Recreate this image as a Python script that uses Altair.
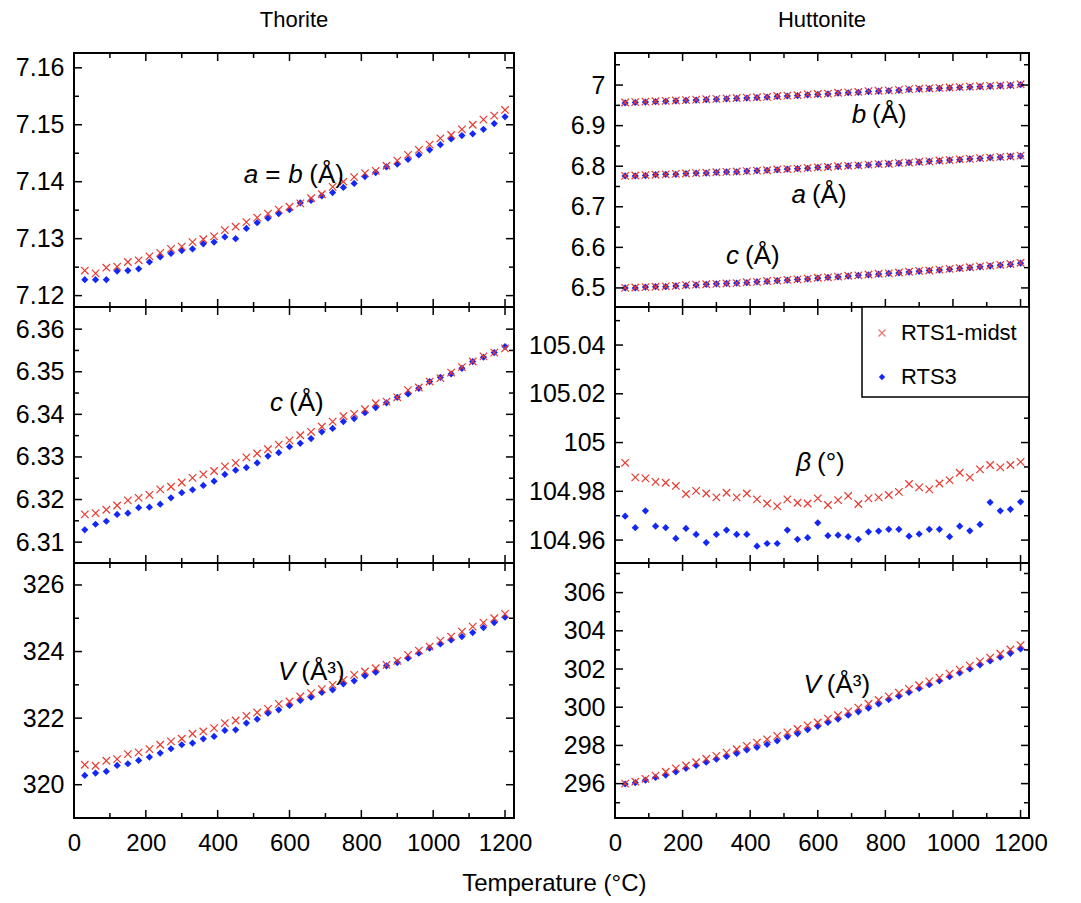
import altair as alt
import pandas as pd

FONT = "Liberation Sans"
RED = "#e8392f"
BLUE = "#1428f5"
XPATH = "M-1,-1L1,1M-1,1L1,-1"

# ---------------- data ----------------
T = [30, 60, 90, 120, 150, 180, 210, 240, 270, 300, 330, 360, 390, 420, 450, 480,
     510, 540, 570, 600, 630, 660, 690, 720, 750, 780, 810, 840, 870, 900, 930, 960,
     990, 1020, 1050, 1080, 1110, 1140, 1170, 1200]

# Thorite a = b
th_a_red = [7.1244, 7.1239, 7.1249, 7.1251, 7.1259, 7.1262, 7.1269, 7.1275, 7.1282, 7.1286,
            7.1294, 7.1299, 7.1304, 7.1315, 7.1321, 7.1329, 7.1337, 7.1344, 7.1351, 7.1356,
            7.1362, 7.1371, 7.1378, 7.1391, 7.1400, 7.1408, 7.1415, 7.1419, 7.1428, 7.1437,
            7.1447, 7.1456, 7.1465, 7.1476, 7.1482, 7.1492, 7.1500, 7.1509, 7.1516, 7.1526]
th_a_blue = [7.1228, 7.1228, 7.1228, 7.1243, 7.1244, 7.1247, 7.1259, 7.1268, 7.1274, 7.1279,
             7.1282, 7.1291, 7.1294, 7.1303, 7.1300, 7.1318, 7.1328, 7.1336, 7.1344, 7.1351,
             7.1363, 7.1367, 7.1375, 7.1381, 7.1390, 7.1397, 7.1409, 7.1416, 7.1426, 7.1431,
             7.1439, 7.1447, 7.1456, 7.1465, 7.1475, 7.1481, 7.1484, 7.1492, 7.1502, 7.1514]
# Thorite c
th_c_red = [6.3165, 6.3168, 6.3176, 6.3186, 6.3198, 6.3204, 6.3211, 6.3224, 6.3230, 6.3240,
            6.3251, 6.3259, 6.3267, 6.3278, 6.3286, 6.3299, 6.3308, 6.3318, 6.3329, 6.3339,
            6.3351, 6.3359, 6.3371, 6.3383, 6.3396, 6.3401, 6.3412, 6.3426, 6.3430, 6.3440,
            6.3457, 6.3463, 6.3477, 6.3485, 6.3498, 6.3511, 6.3524, 6.3536, 6.3545, 6.3555]
th_c_blue = [6.3129, 6.3142, 6.3149, 6.3165, 6.3168, 6.3181, 6.3182, 6.3189, 6.3204, 6.3216,
             6.3223, 6.3233, 6.3243, 6.3259, 6.3269, 6.3275, 6.3286, 6.3302, 6.3310, 6.3324,
             6.3332, 6.3343, 6.3359, 6.3367, 6.3383, 6.3390, 6.3404, 6.3416, 6.3427, 6.3440,
             6.3448, 6.3461, 6.3477, 6.3487, 6.3495, 6.3508, 6.3524, 6.3534, 6.3545, 6.3559]
# Thorite V
th_v_red = [320.60, 320.57, 320.72, 320.77, 320.92, 320.97, 321.07, 321.20, 321.30, 321.38,
            321.53, 321.60, 321.70, 321.85, 321.93, 322.07, 322.17, 322.28, 322.43, 322.50,
            322.65, 322.75, 322.87, 323.00, 323.15, 323.30, 323.40, 323.50, 323.60, 323.72,
            323.90, 324.03, 324.15, 324.33, 324.45, 324.60, 324.75, 324.87, 325.00, 325.13]
th_v_blue = [320.28, 320.35, 320.40, 320.58, 320.63, 320.73, 320.83, 320.95, 321.08, 321.20,
             321.25, 321.38, 321.45, 321.63, 321.65, 321.85, 321.97, 322.15, 322.25, 322.38,
             322.53, 322.63, 322.77, 322.85, 323.03, 323.12, 323.27, 323.38, 323.57, 323.67,
             323.80, 323.95, 324.10, 324.23, 324.35, 324.45, 324.57, 324.72, 324.87, 325.03]

# Huttonite a, b, c
hu_b_red = [6.957, 6.958, 6.959, 6.960, 6.961, 6.962, 6.963, 6.964, 6.965, 6.966,
            6.967, 6.968, 6.969, 6.970, 6.971, 6.973, 6.974, 6.975, 6.977, 6.978,
            6.979, 6.981, 6.982, 6.983, 6.985, 6.986, 6.987, 6.988, 6.990, 6.991,
            6.992, 6.993, 6.994, 6.995, 6.996, 6.997, 6.998, 6.999, 7.000, 7.002]
hu_b_blue = [6.956, 6.957, 6.958, 6.959, 6.960, 6.961, 6.962, 6.963, 6.964, 6.965,
             6.966, 6.967, 6.968, 6.969, 6.970, 6.972, 6.973, 6.974, 6.976, 6.977,
             6.978, 6.980, 6.981, 6.982, 6.984, 6.985, 6.986, 6.987, 6.989, 6.990,
             6.991, 6.992, 6.993, 6.994, 6.995, 6.996, 6.997, 6.998, 6.999, 7.001]
hu_a_red = [6.776, 6.777, 6.778, 6.779, 6.780, 6.781, 6.782, 6.783, 6.784, 6.785,
            6.786, 6.787, 6.788, 6.789, 6.790, 6.792, 6.793, 6.794, 6.796, 6.797,
            6.798, 6.800, 6.801, 6.802, 6.804, 6.805, 6.806, 6.808, 6.809, 6.811,
            6.812, 6.814, 6.815, 6.817, 6.818, 6.820, 6.821, 6.823, 6.824, 6.826]
hu_a_blue = [6.776, 6.776, 6.777, 6.779, 6.780, 6.780, 6.782, 6.783, 6.783, 6.785,
             6.786, 6.786, 6.788, 6.789, 6.790, 6.791, 6.793, 6.794, 6.795, 6.797,
             6.798, 6.799, 6.801, 6.802, 6.803, 6.805, 6.806, 6.807, 6.809, 6.810,
             6.812, 6.813, 6.815, 6.816, 6.818, 6.819, 6.821, 6.822, 6.824, 6.825]
hu_c_red = [6.500, 6.501, 6.502, 6.503, 6.504, 6.505, 6.507, 6.508, 6.509, 6.510,
            6.511, 6.512, 6.514, 6.515, 6.517, 6.518, 6.520, 6.521, 6.523, 6.525,
            6.526, 6.528, 6.530, 6.531, 6.533, 6.535, 6.536, 6.538, 6.540, 6.542,
            6.543, 6.545, 6.547, 6.549, 6.551, 6.553, 6.555, 6.557, 6.559, 6.562]
hu_c_blue = [6.500, 6.500, 6.502, 6.503, 6.503, 6.505, 6.506, 6.507, 6.509, 6.510,
             6.511, 6.512, 6.513, 6.515, 6.516, 6.518, 6.519, 6.521, 6.522, 6.524,
             6.526, 6.527, 6.529, 6.531, 6.532, 6.534, 6.536, 6.537, 6.539, 6.541,
             6.543, 6.544, 6.546, 6.548, 6.550, 6.552, 6.554, 6.556, 6.558, 6.561]
# Huttonite beta
hu_beta_red = [104.9917, 104.9857, 104.9853, 104.9839, 104.9835, 104.9822, 104.9789, 104.9802, 104.9791, 104.9775,
               104.9794, 104.9775, 104.9791, 104.9767, 104.9750, 104.9739, 104.9767, 104.9753, 104.9750, 104.9771,
               104.9744, 104.9764, 104.9781, 104.9748, 104.9771, 104.9775, 104.9785, 104.9798, 104.9830, 104.9816,
               104.9808, 104.9832, 104.9846, 104.9876, 104.9857, 104.9890, 104.9908, 104.9898, 104.9908, 104.9921]
hu_beta_blue = [104.9698, 104.9651, 104.9720, 104.9657, 104.9651, 104.9607, 104.9648, 104.9623, 104.9590, 104.9623,
                104.9641, 104.9623, 104.9623, 104.9575, 104.9586, 104.9586, 104.9641, 104.9603, 104.9610, 104.9671,
                104.9618, 104.9620, 104.9614, 104.9603, 104.9634, 104.9637, 104.9644, 104.9644, 104.9616, 104.9625,
                104.9644, 104.9644, 104.9614, 104.9657, 104.9638, 104.9664, 104.9755, 104.9720, 104.9726, 104.9757]
# Huttonite V
hu_v_red = [296.00, 296.10, 296.25, 296.42, 296.62, 296.80, 296.95, 297.12, 297.30, 297.45,
            297.62, 297.80, 297.98, 298.15, 298.32, 298.50, 298.68, 298.86, 299.05, 299.20,
            299.40, 299.58, 299.78, 299.98, 300.18, 300.38, 300.57, 300.76, 300.96, 301.15,
            301.35, 301.55, 301.76, 301.97, 302.18, 302.40, 302.60, 302.80, 303.02, 303.25]
hu_v_blue = [295.98, 296.05, 296.18, 296.32, 296.45, 296.62, 296.80, 296.95, 297.12, 297.28,
             297.42, 297.58, 297.76, 297.90, 298.06, 298.24, 298.45, 298.62, 298.82, 299.00,
             299.20, 299.38, 299.58, 299.76, 299.95, 300.18, 300.40, 300.58, 300.78, 300.98,
             301.18, 301.38, 301.60, 301.80, 302.00, 302.22, 302.42, 302.62, 302.82, 303.05]

x_major = [0, 200, 400, 600, 800, 1000, 1200]
x_minor = [100, 300, 500, 700, 900, 1100]
X_DOMAIN = [0, 1225]

series_names = ["RTS1-midst", "RTS3"]
column_titles = ["Thorite", "Huttonite"]
x_title = "Temperature (°C)"

ANN_SIZE = 26


def tick_layers(xsc, ysc, xaxis, yaxis, ymaj, ymin, w, h):
    layers = []
    for vals, L in [(x_major, 8), (x_minor, 5)]:
        d = pd.DataFrame({"t": vals})
        base = alt.Chart(d).mark_rule(color="black", strokeWidth=1.5)
        layers.append(base.encode(x=alt.X("t:Q", scale=xsc, axis=xaxis),
                                  y=alt.value(h), y2=alt.value(h - L)))
        layers.append(base.encode(x=alt.X("t:Q", scale=xsc, axis=xaxis),
                                  y=alt.value(0), y2=alt.value(L)))
    for vals, L in [(ymaj, 8), (ymin, 5)]:
        d = pd.DataFrame({"t": vals})
        base = alt.Chart(d).mark_rule(color="black", strokeWidth=1.5)
        layers.append(base.encode(y=alt.Y("t:Q", scale=ysc, axis=yaxis),
                                  x=alt.value(0), x2=alt.value(L)))
        layers.append(base.encode(y=alt.Y("t:Q", scale=ysc, axis=yaxis),
                                  x=alt.value(w), x2=alt.value(w - L)))
    return layers


def annot_layers(xsc, ysc, xaxis, yaxis, annots):
    layers = []
    for (tx, vy, pieces) in annots:
        d = pd.DataFrame({"T": [tx], "v": [vy]})
        for (txt, italic, align, dx) in pieces:
            layers.append(
                alt.Chart(d).mark_text(text=txt, font=FONT, fontSize=ANN_SIZE,
                                       fontStyle="italic" if italic else "normal",
                                       align=align, baseline="middle", dx=dx, color="black")
                .encode(x=alt.X("T:Q", scale=xsc, axis=xaxis),
                        y=alt.Y("v:Q", scale=ysc, axis=yaxis))
            )
    return layers


def legend_layers(w):
    layers = []
    box = pd.DataFrame({"k": [0]})
    layers.append(alt.Chart(box).mark_rect(fill="white", stroke="black", strokeWidth=1.5)
                  .encode(x=alt.value(w - 167), x2=alt.value(w), y=alt.value(0), y2=alt.value(90)))
    d1 = pd.DataFrame({"name": [series_names[0]]})
    d2 = pd.DataFrame({"name": [series_names[1]]})
    layers.append(alt.Chart(d1).mark_point(shape=XPATH, filled=False, strokeWidth=1.2, size=49, color=RED)
                  .encode(x=alt.value(w - 147), y=alt.value(26)))
    layers.append(alt.Chart(d1).mark_text(font=FONT, fontSize=22, align="left", baseline="middle", color="black")
                  .encode(text="name:N", x=alt.value(w - 128), y=alt.value(26)))
    layers.append(alt.Chart(d2).mark_point(shape="diamond", filled=True, size=40, color=BLUE, opacity=1)
                  .encode(x=alt.value(w - 147), y=alt.value(70)))
    layers.append(alt.Chart(d2).mark_text(font=FONT, fontSize=22, align="left", baseline="middle", color="black")
                  .encode(text="name:N", x=alt.value(w - 128), y=alt.value(70)))
    return layers


def panel(reds, blues, ydom, ymaj, ymin, yfmt, w, h, annots, bottom=False, title=None, legend=False):
    xsc = alt.Scale(domain=X_DOMAIN, nice=False, zero=False)
    ysc = alt.Scale(domain=ydom, nice=False, zero=False)
    if bottom:
        xaxis = alt.Axis(values=x_major, ticks=False, domain=False, grid=False, title=None,
                         labelFontSize=24, labelFont=FONT, labelColor="black", labelPadding=13,
                         labelFlush=False, labelOverlap=False, format="d")
    else:
        xaxis = alt.Axis(values=x_major, ticks=False, domain=False, grid=False, title=None, labels=False)
    yaxis = alt.Axis(values=ymaj, ticks=False, domain=False, grid=False, title=None,
                     labelFontSize=25, labelFont=FONT, labelColor="black", labelPadding=10,
                     labelFlush=False, labelOverlap=False, format=yfmt)
    db = pd.DataFrame([{"T": t, "v": v} for s in blues for t, v in zip(T, s)])
    dr = pd.DataFrame([{"T": t, "v": v} for s in reds for t, v in zip(T, s)])
    blue_layer = alt.Chart(db).mark_point(shape="diamond", filled=True, size=52, color=BLUE, opacity=1).encode(
        x=alt.X("T:Q", scale=xsc, axis=xaxis), y=alt.Y("v:Q", scale=ysc, axis=yaxis))
    red_layer = alt.Chart(dr).mark_point(shape=XPATH, filled=False, strokeWidth=1.2, size=56, color=RED, opacity=1).encode(
        x=alt.X("T:Q", scale=xsc, axis=xaxis), y=alt.Y("v:Q", scale=ysc, axis=yaxis))
    layers = [blue_layer, red_layer]
    layers += tick_layers(xsc, ysc, xaxis, yaxis, ymaj, ymin, w, h)
    layers += annot_layers(xsc, ysc, xaxis, yaxis, annots)
    if legend:
        layers += legend_layers(w)
    props = dict(width=w, height=h)
    if title:
        props["title"] = alt.TitleParams(title, fontSize=22, font=FONT, fontWeight="normal",
                                         offset=20, anchor="middle", color="black")
    return alt.layer(*layers).properties(**props)


WL, WR = 440, 414
H1, H2, H3 = 254, 256, 255


def lbl(letter, rest, gap=6):
    return [(letter, True, "right", 0), (rest, False, "left", gap)]


p_th_a = panel([th_a_red], [th_a_blue], [7.118, 7.1626],
               [7.12, 7.13, 7.14, 7.15, 7.16], [7.125, 7.135, 7.145, 7.155], ".2f", WL, H1,
               [(513, 7.1411, [("a", True, "right", 0), ("=", False, "left", 7),
                               ("b", True, "left", 30), ("(Å)", False, "left", 51)])],
               title=column_titles[0])
p_th_c = panel([th_c_red], [th_c_blue], [6.3051, 6.3652],
               [6.31, 6.32, 6.33, 6.34, 6.35, 6.36], [6.315, 6.325, 6.335, 6.345, 6.355], ".2f", WL, H2,
               [(582, 6.3426, lbl("c", "(Å)"))])
p_th_v = panel([th_v_red], [th_v_blue], [319.0, 326.66],
               [320, 322, 324, 326], [319, 321, 323, 325], "d", WL, H3,
               [(616, 323.38, lbl("V", "(Å³)"))], bottom=True)

p_hu_abc = panel([hu_b_red, hu_a_red, hu_c_red], [hu_b_blue, hu_a_blue, hu_c_blue], [6.453, 7.079],
                 [6.5, 6.6, 6.7, 6.8, 6.9, 7.0], [6.55, 6.65, 6.75, 6.85, 6.95, 7.05], ".1~f", WR, H1,
                 [(743, 6.926, lbl("b", "(Å)")),
                  (565, 6.7295, lbl("a", "(Å)")),
                  (367, 6.578, lbl("c", "(Å)"))],
                 title=column_titles[1])
p_hu_beta = panel([hu_beta_red], [hu_beta_blue], [104.9506, 105.0556],
                  [104.96, 104.98, 105.0, 105.02, 105.04], [104.97, 104.99, 105.01, 105.03, 105.05], ".2~f", WR, H2,
                  [(580, 104.9915, lbl("β", "(°)"))], legend=True)
p_hu_v = panel([hu_v_red], [hu_v_blue], [294.2, 307.55],
               [296, 298, 300, 302, 304, 306], [295, 297, 299, 301, 303, 305, 307], "d", WR, H3,
               [(609, 301.15, lbl("V", "(Å³)"))], bottom=True)

left = alt.vconcat(p_th_a, p_th_c, p_th_v, spacing=0, bounds="flush")
right = alt.vconcat(p_hu_abc, p_hu_beta, p_hu_v, spacing=0, bounds="flush")

chart = (
    alt.hconcat(left, right, spacing=-6)
    .properties(
        title=alt.TitleParams(x_title, orient="bottom", anchor="middle", fontSize=24, font=FONT,
                              fontWeight="normal", color="black", offset=16, dx=23),
        padding={"left": 14, "top": 8, "right": 10, "bottom": 4},
        background="white",
    )
    .configure_view(stroke="black", strokeWidth=2)
)

chart.save("out.html", embed_options={"renderer": "svg", "actions": False})
